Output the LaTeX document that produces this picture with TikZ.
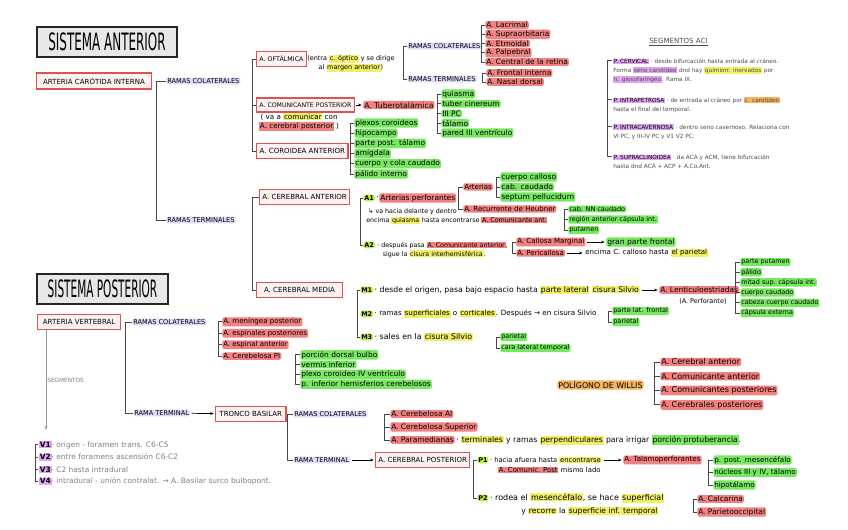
\documentclass[tikz,border=0pt]{standalone}
\usepackage{fontspec}
\setmainfont{DejaVu Sans}
\usepackage{xcolor}
\usetikzlibrary{arrows.meta,positioning}

\definecolor{redln}{RGB}{222,82,82}
\definecolor{redhl}{RGB}{242,130,130}
\definecolor{grnhl}{RGB}{120,232,98}
\definecolor{yelhl}{RGB}{242,240,105}
\definecolor{bluhl}{RGB}{220,220,250}
\definecolor{purhl}{RGB}{224,165,240}
\definecolor{orahl}{RGB}{246,180,95}
\definecolor{limhl}{RGB}{192,240,70}

\newcommand{\fs}[1]{\fontsize{#1}{6.4}\selectfont}
\newcommand{\capfont}{\fontsize{5}{5.5}\selectfont}
\newcommand{\notefont}{\fontsize{4.1}{6.3}\selectfont}
\newcommand{\hlw}[2]{{\setlength{\fboxsep}{0.5pt}\colorbox{#1}{#2}}}
\newcommand{\ttl}[2]{\scalebox{#1}[1]{\fontsize{17}{17}\selectfont #2}}

\begin{document}
\begin{tikzpicture}[x=0.025cm, y=-0.025cm,
  ttlbox/.style={draw=black!85, line width=1.3pt, fill=black!9, minimum height=21pt, inner sep=1pt},
  rbox/.style={draw=redln, line width=0.9pt, fill=redln!7, font=\capfont, anchor=west, inner xsep=2pt, minimum height=9.5pt},
  lbl/.style={anchor=west, font=\fs{5.3}, inner sep=0.7pt, align=left},
  hred/.style={lbl, fill=redhl, rounded corners=1.5pt},
  hgrn/.style={lbl, fill=grnhl, rounded corners=1.5pt},
  hblu/.style={lbl, font=\fontsize{4.7}{5}\selectfont, fill=bluhl, rounded corners=1.5pt},
  hlime/.style={lbl, fill=limhl, rounded corners=2pt, font=\fs{4.6}\bfseries},
  note/.style={lbl, font=\notefont, text=black!70},
  brk/.style={draw=black!72, line width=0.65pt},
  arr/.style={-{Stealth[length=2.4pt,width=2pt]}, line width=0.5pt, shorten >=1pt, shorten <=1pt}
]
\fill[white] (0,0) rectangle (848,530);
\useasboundingbox (0,0) rectangle (848,530);

% ---- sistema anterior ----
\node[ttlbox, minimum width=100pt] (tant) at (107,42) {\ttl{0.5}{SISTEMA ANTERIOR}};
\node[rbox, minimum width=81.5pt] (aci) at (36,81) {ARTERIA CARÓTIDA INTERNA};
\node[hblu] (acicol) at (166,81) {RAMAS COLATERALES};
\node[hblu] (aciter) at (166,220) {RAMAS TERMINALES};
\draw[brk] (acicol.west) -- ++(-10,0) |- (aciter.west);

\node[rbox, font=\fontsize{4.5}{5}\selectfont] (oft) at (256,59) {A. OFTÁLMICA};
\node[rbox, font=\fontsize{4.4}{5}\selectfont] (pcom) at (256,105) {A. COMUNICANTE POSTERIOR};
\node[rbox, minimum width=65pt] (coro) at (256,151) {A. COROIDEA ANTERIOR};
\draw[brk] (oft.west) -- ++(-4,0) |- (coro.west);
\draw[brk] (pcom.west) -- ++(-4,0);

% oftalmica
\node[lbl, align=center, font=\fs{4.6}] (oftn) at (306,63.5) {(entra \hlw{yelhl}{c. óptico} y se dirige\\al \hlw{yelhl}{margen anterior})};
\node[hblu] (oftcol) at (407,46) {RAMAS COLATERALES};
\node[hblu] (oftter) at (407,79) {RAMAS TERMINALES};
\draw[brk] (oftcol.west) -- ++(-4,0) |- (oftter.west);
\foreach \t [count=\i] in {A. Lacrimal, A. Supraorbitaria, A. Etmoidal, A. Palpebral, A. Central de la retina}
  \node[hred] (oc\i) at (485,{15.75+9.25*\i}) {\t};
\draw[brk] (oc1.west) -- ++(-4,0) |- (oc5.west);
\foreach \i in {2,3,4} \draw[brk] (oc\i.west) -- ++(-4,0);
\node[hred] (ot1) at (486,73) {A. Frontal interna};
\node[hred] (ot2) at (486,82) {A. Nasal dorsal};
\draw[brk] (ot1.west) -- ++(-4,0) |- (ot2.west);

% comunicante posterior
\node[hred, font=\fs{5.5}] (tuber) at (363,105) {A. Tuberotalámica};
\draw[arr] (pcom) -- (tuber);
\node[lbl, align=center, font=\fs{5.1}] (pcomn) at (258,122) {( va a \hlw{yelhl}{comunicar} con\\\hlw{redhl}{A. cerebral posterior} )};
\foreach \t [count=\i] in {quiasma, tuber cinereum, III PC, tálamo, pared III ventrículo}
  \node[hgrn] (tu\i) at (441,{84.25+9.75*\i}) {\t};
\draw[brk] (tu1.west) -- ++(-4,0) |- (tu5.west);
\foreach \i in {2,3,4} \draw[brk] (tu\i.west) -- ++(-4,0);

% coroidea anterior
\foreach \t [count=\i] in {plexos coroideos, hipocampo, parte post. tálamo, amígdala, cuerpo y cola caudado, pálido interno}
  \node[hgrn] (co\i) at (354,{112.8+10.2*\i}) {\t};
\draw[brk] (co1.west) -- ++(-4,0) |- (co6.west);
\foreach \i in {2,...,5} \draw[brk] (co\i.west) -- ++(-4,0);

% ramas terminales
\node[rbox, minimum width=60pt] (aca) at (259,197) {A. CEREBRAL ANTERIOR};
\node[rbox, minimum width=61pt] (acm) at (256,290) {A. CEREBRAL MEDIA};
\draw[brk] (aca.west) -- ++(-7,0) |- (acm.west);

% cerebral anterior
\node[hlime] (a1) at (363,198) {A1};
\node[lbl] (a1d) at (a1.east) {·};
\node[hred] (aperf) at (379,198) {Arterias perforantes};
\node[lbl, font=\fs{4.5}] (a1n) at (365,216.5) {\ ↳ va hacia delante y dentro\\encima \hlw{yelhl}{quiasma} hasta encontrarse \hlw{redhl}{A. Comunicante ant.}};
\node[hred, font=\fs{5}] (artr) at (463,187) {Arterias};
\node[hred, font=\fs{5}] (heub) at (463,209) {A. Recurrente de Heubner};
\draw[brk] (artr.west) -- ++(-5,0) |- (heub.west);
\foreach \t [count=\i] in {cuerpo calloso, cab. caudado, septum pellucidum}
  \node[hgrn, font=\fs{5.4}] (ar\i) at (500,{167+10*\i}) {\t};
\draw[brk] (ar1.west) -- ++(-4,0) |- (ar3.west);
\draw[brk] (ar2.west) -- ++(-4,0);
\foreach \t [count=\i] in {cab. NN caudado, región anterior cápsula int., putamen}
  \node[hgrn, font=\fs{4.6}] (hb\i) at (568,{198.5+10.5*\i}) {\t};
\draw[brk] (hb1.west) -- ++(-4,0) |- (hb3.west);
\draw[brk] (hb2.west) -- ++(-4,0);

\node[hlime] (a2) at (363,245) {A2};
\node[lbl, font=\fs{4.5}] (a2n) at (376,249.5) {· después pasa \hlw{redhl}{A. Comunicante anterior},\\\hspace{4pt}sigue la \hlw{yelhl}{cisura interhemisférica}.};
\draw[brk] (a1.west) -- ++(-3,0) |- (a2.west);
\node[hred, font=\fs{5}] (cmarg) at (516,242) {A. Callosa Marginal};
\node[hgrn, font=\fs{5.4}] (gpf) at (606,242) {gran parte frontal};
\draw[arr] (cmarg) -- (gpf);
\node[hred, font=\fs{5}] (peric) at (516,253) {A. Pericallosa};
\node[lbl, font=\fs{5}] (pern) at (584,253) {encima C. calloso hasta \hlw{yelhl}{el parietal}};
\draw[arr] (peric) -- (pern);
\draw[brk] (cmarg.west) -- ++(-4,0) |- (peric.west);

% cerebral media
\node[hlime] (m1) at (360,290) {M1};
\node[lbl, font=\fs{5.5}] (m1n) at (m1.east) {· desde el origen, pasa bajo espacio hasta \hlw{yelhl}{parte lateral} \hlw{yelhl}{cisura Silvio}};
\node[hred] (lent) at (659,290) {A. Lenticuloestriadas};
\draw[arr] (m1n) -- (lent);
\node[lbl, font=\fs{4.6}] (lentn) at (678,301) {(A. Perforante)};
\foreach \t [count=\i] in {parte putamen, pálido, mitad sup. cápsula int., cuerpo caudado, cabeza cuerpo caudado, cápsula externa}
  \node[hgrn, font=\fs{4.6}] (le\i) at (740,{251.8+10.2*\i}) {\t};
\draw[brk] (le1.west) -- ++(-5,0) |- (le6.west);
\foreach \i in {2,...,5} \draw[brk] (le\i.west) -- ++(-5,0);

\node[hlime] (m2) at (360,314) {M2};
\node[lbl, font=\fs{5.1}] (m2n) at (m2.east) {· ramas \hlw{yelhl}{superficiales} o \hlw{yelhl}{corticales}. Después → en cisura Silvio};
\node[hgrn, font=\fs{4.7}] (mf1) at (612,311) {parte lat. frontal};
\node[hgrn, font=\fs{4.7}] (mf2) at (612,322) {parietal};
\draw[brk] (mf1.west) -- ++(-4,0) |- (mf2.west);

\node[hlime] (m3) at (360,337) {M3};
\node[lbl, font=\fs{5.6}] (m3n) at (m3.east) {· sales en la \hlw{yelhl}{cisura Silvio}};
\node[hgrn, font=\fs{4.6}] (mt1) at (500,337) {parietal};
\node[hgrn, font=\fs{4.6}] (mt2) at (500,348) {cara lateral temporal};
\draw[brk] (mt1.west) -- ++(-4,0) |- (mt2.west);
\draw[brk] (m1.west) -- ++(-3,0) |- (m3.west);

% segmentos ACI
\node[note, font=\capfont] (segt) at (648,42) {\underline{SEGMENTOS ACI}};
\node[note] (seg1) at (612,71) {\hlw{purhl}{\textcolor{black}{P. CERVICAL}} · desde bifurcación hasta entrada al cráneo.\\Forma \hlw{purhl}{seno carotídeo} dnd hay \hlw{yelhl}{quimiorr. inervados} por\\\hlw{purhl}{n. glosofaríngeo}. Rama IX.};
\node[note] (seg2) at (612,105) {\hlw{purhl}{\textcolor{black}{P. INTRAPETROSA}} · de entrada al cráneo por \hlw{orahl}{c. carotídeo}\\hasta el final del temporal.};
\node[note] (seg3) at (612,132) {\hlw{purhl}{\textcolor{black}{P. INTRACAVERNOSA}} · dentro seno cavernoso. Relaciona con\\VI PC, y III-IV PC y V1 V2 PC.};
\node[note] (seg4) at (612,161.5) {\hlw{purhl}{\textcolor{black}{P. SUPRACLINOIDEA}} · da ACA y ACM, tiene bifurcación\\hasta dnd ACA + ACP + A.Co.Ant.};
\draw[brk] ([yshift=-2.5pt]seg1.north west) -- ++(-5,0) |- ([yshift=-2.5pt]seg4.north west);
\foreach \n in {seg2,seg3} \draw[brk] ([yshift=-2.5pt]\n.north west) -- ++(-5,0);

% ---- sistema posterior ----
\node[ttlbox, minimum width=93pt] (tpos) at (102.5,289) {\ttl{0.44}{SISTEMA POSTERIOR}};
\node[rbox, minimum width=59pt] (vert) at (37,322) {ARTERIA VERTEBRAL};
\node[hblu] (vcol) at (132,322) {RAMAS COLATERALES};
\node[hblu] (vter) at (133,413) {RAMA TERMINAL};
\draw[brk] (vcol.west) -- ++(-7,0) |- (vter.west);
\node[rbox, minimum width=50pt] (tb) at (215,414) {TRONCO BASILAR};
\draw[arr] (vter) -- (tb);

\foreach \t [count=\i] in {A. meníngea posterior, A. espinales posteriores, A. espinal anterior, A. Cerebelosa PI}
  \node[hred, font=\fs{5}] (vc\i) at (222,{310.5+11.4*\i}) {\t};
\draw[brk] (vc1.west) -- ++(-4,0) |- (vc4.west);
\foreach \i in {2,3} \draw[brk] (vc\i.west) -- ++(-4,0);
\foreach \t [count=\i] in {porción dorsal bulbo, vermis inferior, plexo coroideo IV ventrículo, p. inferior hemisferios cerebelosos}
  \node[hgrn] (pi\i) at (300,{345+9.8*\i}) {\t};
\draw[brk] (pi1.west) -- ++(-5,0) |- (pi4.west);
\foreach \i in {2,3} \draw[brk] (pi\i.west) -- ++(-5,0);

% segmentos vertebral
\coordinate (vsegend) at (46,430);
\draw[-{Stealth[length=3pt]}, draw=black!40, line width=0.6pt] (vert.south -| vsegend) -- node[note, right, text=black!50] {SEGMENTOS} (vsegend);
\foreach \t [count=\i] in {origen - foramen trans. C6-C5, entre foramens ascensión C6-C2, C2 hasta intradural, intradural - unión contralat. → A. Basilar surco bulbopont.}
  \node[lbl, text=black!50] (v\i) at (38,{432.5+12.3*\i}) {\hlw{purhl}{\textcolor{black}{\bfseries V\i}}· \t};
\draw[brk] (v1.west) -- ++(-3,0) |- (v4.west);
\foreach \i in {2,3} \draw[brk] (v\i.west) -- ++(-3,0);

% tronco basilar
\node[hblu] (tcol) at (293,414) {RAMAS COLATERALES};
\node[hblu] (tter) at (293,460) {RAMA TERMINAL};
\draw[brk] (tcol.west) -- ++(-6,0) |- (tter.west);
\foreach \t [count=\i] in {A. Cerebelosa AI, A. Cerebelosa Superior, A. Paramedianas}
  \node[hred] (tc\i) at (390,{401+13*\i}) {\t};
\draw[brk] (tc1.west) -- ++(-6,0) |- (tc3.west);
\draw[brk] (tc2.west) -- ++(-6,0);
\node[lbl, font=\fs{5.5}] (paran) at (tc3.east) {· \hlw{yelhl}{terminales} y ramas \hlw{yelhl}{perpendiculares} para irrigar \hlw{grnhl}{porción protuberancia}.};

% cerebral posterior
\node[rbox, minimum width=67pt] (acp) at (375,460) {A. CEREBRAL POSTERIOR};
\draw[arr] (tter) -- (acp);
\node[hlime] (p1) at (477,460) {P1};
\node[lbl, font=\fs{4.8}] (p1a) at (p1.east) {· hacia afuera hasta \hlw{yelhl}{encontrarse}};
\node[lbl, font=\fs{4.9}] (p1b) at (497,470) {\hlw{redhl}{A. Comunic. Post} mismo lado};
\node[hred, font=\fs{5.1}] (talp) at (623,460) {A. Talamoperforantes};
\draw[arr] (p1a) -- (talp);
\foreach \t [count=\i] in {p. post. mesencéfalo, {núcleos III y IV, tálamo}, hipotálamo}
  \node[hgrn, font=\fs{5.1}] (tp\i) at (713,{447.5+12.5*\i}) {\t};
\draw[brk] (tp1.west) -- ++(-5,0) |- (tp3.west);
\draw[brk] (tp2.west) -- ++(-5,0);

\node[hlime] (p2) at (477,498) {P2};
\node[lbl, font=\fs{5.7}] (p2a) at (p2.east) {· rodea el \hlw{yelhl}{mesencéfalo}, se hace \hlw{yelhl}{superficial}};
\node[lbl, font=\fs{5.4}] (p2b) at (520,511) {y \hlw{yelhl}{recorre} la \hlw{yelhl}{superficie inf. temporal}};
\node[hred] (cal) at (697,499) {A. Calcarina};
\node[hred] (paro) at (697,512) {A. Parietooccipital};
\draw[brk] (cal.west) -- ++(-4,0) |- (paro.west);
\draw[brk] (p1.west) -- ++(-4,0) |- (p2.west);

% poligono de willis
\node[lbl, font=\fontsize{5.6}{6}\selectfont, fill=orahl, rounded corners=2pt] (will) at (557,385) {POLÍGONO DE WILLIS};
\foreach \t [count=\i] in {A. Cerebral anterior, A. Comunicante anterior, A. Comunicantes posteriores, A. Cerebrales posteriores}
  \node[hred, font=\fs{5.7}] (wi\i) at (660,{347.7+14.3*\i}) {\t};
\draw[brk] (wi1.west) -- ++(-6,0) |- (wi4.west);
\foreach \i in {2,3} \draw[brk] (wi\i.west) -- ++(-6,0);
\end{tikzpicture}
\end{document}
